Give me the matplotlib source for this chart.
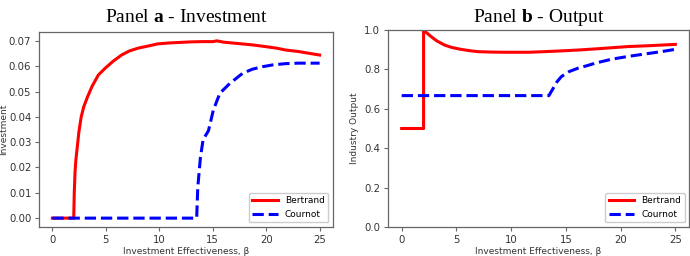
import matplotlib
matplotlib.use("Agg")
import matplotlib.pyplot as plt
import numpy as np

# ---- data ----
beta_bi = [0, 2.0, 2.02, 2.05, 2.12, 2.2, 2.33, 2.48, 2.7, 2.94, 3.3, 3.71, 4.3, 4.94, 5.7, 6.47, 7.2, 8.0, 9.0, 9.84, 11.0, 12.0, 13.0, 14.0, 15.0, 15.4, 16.0, 17.0, 18.0, 18.74, 20.0, 21.0, 21.8, 23.0, 24.0, 25.0]
bert_inv = [0, 0, 0.004, 0.010, 0.018, 0.023, 0.028, 0.034, 0.040, 0.044, 0.048, 0.052, 0.0565, 0.0592, 0.062, 0.0644, 0.0660, 0.0671, 0.0680, 0.0688, 0.0692, 0.0694, 0.0696, 0.0697, 0.0697, 0.0700, 0.0695, 0.0691, 0.0687, 0.0684, 0.0677, 0.0671, 0.0664, 0.0658, 0.0651, 0.0644]
beta_ci = [0, 13.5, 13.6, 13.85, 14.1, 14.6, 15.06, 15.67, 16.6, 17.8, 18.7, 19.66, 20.6, 21.8, 23.0, 24.0, 25.0]
cour_inv = [0, 0, 0.012, 0.024, 0.031, 0.0345, 0.0427, 0.0493, 0.0532, 0.0572, 0.0588, 0.0598, 0.0605, 0.0610, 0.0612, 0.0612, 0.0612]

beta_bo = [0, 2.0, 2.0, 2.3, 2.7, 3.2, 3.9, 4.6, 5.4, 6.2, 7.0, 8.2, 9.4, 10.5, 11.6, 13.0, 14.6, 16.0, 17.7, 19.2, 20.7, 22.5, 25.0]
bert_out = [0.5, 0.5, 1.0, 0.985, 0.966, 0.945, 0.924, 0.911, 0.902, 0.895, 0.890, 0.888, 0.887, 0.887, 0.887, 0.890, 0.894, 0.898, 0.904, 0.910, 0.916, 0.920, 0.927]
beta_co = [0, 13.45, 13.85, 14.2, 14.6, 15.3, 16.1, 17.0, 17.7, 19.2, 20.7, 22.3, 23.7, 25.0]
cour_out = [0.667, 0.667, 0.705, 0.738, 0.764, 0.789, 0.806, 0.820, 0.832, 0.852, 0.866, 0.879, 0.890, 0.902]

xticks = [0, 5, 10, 15, 20, 25]
inv_ticks = [0.00, 0.01, 0.02, 0.03, 0.04, 0.05, 0.06, 0.07]
out_ticks = [0.0, 0.2, 0.4, 0.6, 0.8, 1.0]

plt.rcParams['mathtext.fontset'] = 'custom'
plt.rcParams['mathtext.rm'] = 'Liberation Serif'
plt.rcParams['mathtext.bf'] = 'Liberation Serif:bold'

fig = plt.figure(figsize=(6.9, 2.56), dpi=100)
ax1 = fig.add_axes([0.0565, 0.1133, 0.4261, 0.7617])
ax2 = fig.add_axes([0.5623, 0.1133, 0.4363, 0.7695])

lw = 2.2
tick_c = '#333333'
spine_c = '#666666'

def style(ax):
    for s in ax.spines.values():
        s.set_color(spine_c)
        s.set_linewidth(0.9)
    ax.tick_params(labelsize=7.3, colors=spine_c, labelcolor=tick_c, length=3, width=0.8, pad=2.5)
    ax.set_xticks(xticks)
    ax.set_xlabel('Investment Effectiveness, β', fontsize=6.5, color=tick_c, labelpad=2)

ax1.plot(beta_bi, bert_inv, color='red', lw=lw, label='Bertrand')
ax1.plot(beta_ci, cour_inv, color='blue', lw=lw, ls='--', label='Cournot')
style(ax1)
ax1.set_yticks(inv_ticks)
ax1.set_yticklabels([f'{v:.2f}' for v in inv_ticks])
ax1.set_ylabel('Investment', fontsize=6.5, color=tick_c)
ax1.yaxis.set_label_coords(-0.105, 0.5)
ax1.legend(loc='lower right', fontsize=6.5, handlelength=2.8, framealpha=1)
ax1.set_title(r'Panel $\mathbf{a}$ - Investment', fontsize=14, family='Liberation Serif', pad=7)

ax2.plot(beta_bo, bert_out, color='red', lw=lw, label='Bertrand')
ax2.plot(beta_co, cour_out, color='blue', lw=lw, ls='--', label='Cournot')
style(ax2)
ax2.set_ylim(0, 1.0)
ax2.set_yticks(out_ticks)
ax2.set_ylabel('Industry Output', fontsize=6.5, color=tick_c)
ax2.yaxis.set_label_coords(-0.097, 0.5)
ax2.legend(loc='lower right', fontsize=6.5, handlelength=2.8, framealpha=1)
ax2.set_title(r'Panel $\mathbf{b}$ - Output', fontsize=14, family='Liberation Serif', pad=6)

fig.savefig('out.png', dpi=100)
